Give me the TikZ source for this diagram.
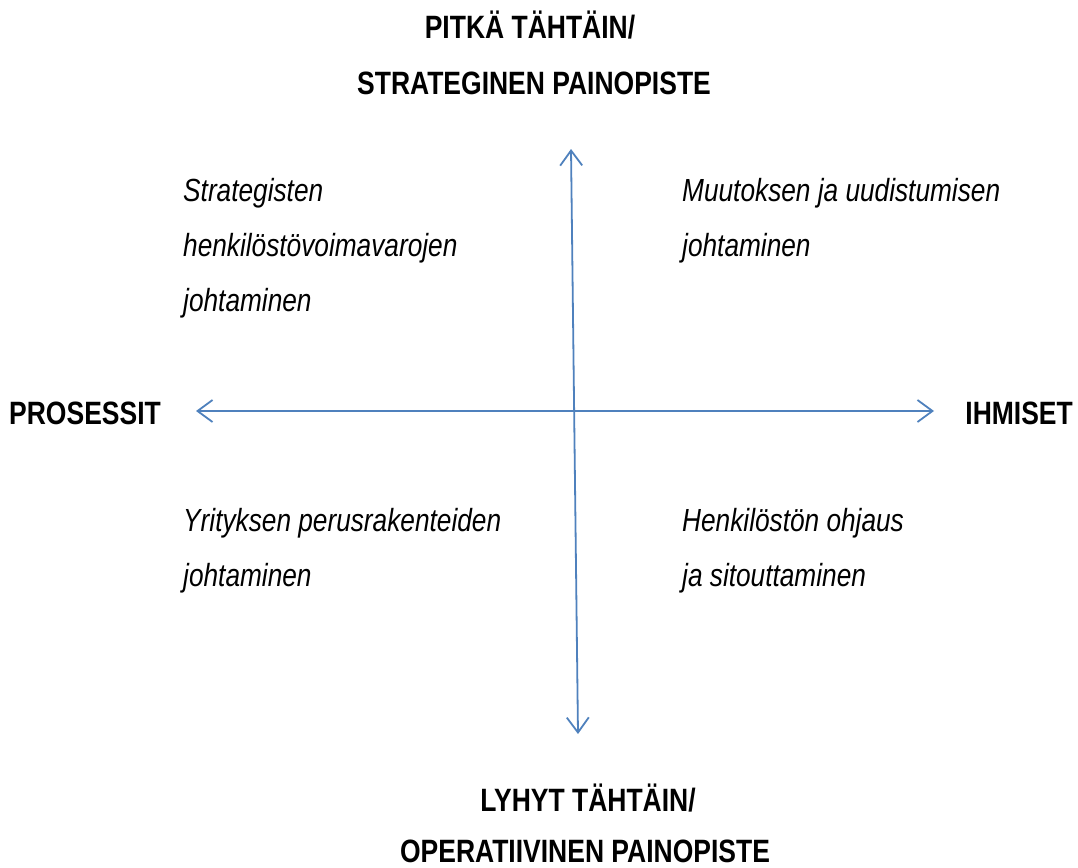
\documentclass[tikz,border=0pt]{standalone}
\usepackage{fontspec}
\setmainfont{Liberation Sans}[FakeStretch=0.82]
\usetikzlibrary{arrows.meta}
\definecolor{axisblue}{HTML}{4F81BD}
\tikzset{
  title/.style={font=\bfseries\fontsize{32.3}{55}\selectfont, inner sep=0pt},
  quad/.style={font=\itshape\fontsize{32}{55}\selectfont, inner sep=0pt, align=left, anchor=base west},
  axis/.style={draw=axisblue, line width=1.8pt, {Straight Barb[length=15pt,width=22pt,line width=1.8pt]}-{Straight Barb[length=15pt,width=22pt,line width=1.8pt]}}
}
\begin{document}
\begin{tikzpicture}[x=1pt,y=-1pt]
\useasboundingbox (0,0) rectangle (1078,867);
% axes
\coordinate (top) at (571,149);
\coordinate (bot) at (578,734);
\coordinate (lft) at (196,411);
\coordinate (rgt) at (934,411);
\draw[axis] (top) -- (bot);
\draw[axis] (lft) -- (rgt);
% titles
\node[title, anchor=base] (t1) at (530,39) {PITKÄ TÄHTÄIN/};
\node[title, anchor=base] (t2) at (534,94) {STRATEGINEN PAINOPISTE};
\node[title, anchor=base] (b1) at (588,811) {LYHYT TÄHTÄIN/};
\node[title, anchor=base] (b2) at (585,862) {OPERATIIVINEN PAINOPISTE};
\node[title, anchor=base west] (pl) at (9,424) {PROSESSIT};
\node[title, anchor=base east] (pr) at (1073,424) {IHMISET};
% quadrants (anchor = baseline of last line)
\node[quad] (q1) at (183,311) {Strategisten\\henkilöstövoimavarojen\\johtaminen};
\node[quad] (q2) at (682,256) {Muutoksen ja uudistumisen\\johtaminen};
\node[quad] (q3) at (183,586) {Yrityksen perusrakenteiden\\johtaminen};
\node[quad] (q4) at (682,586) {Henkilöstön ohjaus\\ja sitouttaminen};
\end{tikzpicture}
\end{document}
